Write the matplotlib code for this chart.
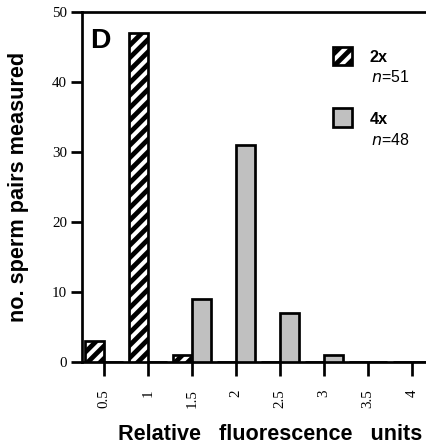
import matplotlib
matplotlib.use("Agg")
import matplotlib.pyplot as plt
from matplotlib.patches import Rectangle
import numpy as np

categories = ["0.5", "1", "1.5", "2", "2.5", "3", "3.5", "4"]
counts_2x = [3, 47, 1, 0, 0, 0, 0, 0]
counts_4x = [0, 0, 9, 31, 7, 1, 0, 0]
series_labels = ["2x", "4x"]
series_n = ["51", "48"]
yticks = [0, 10, 20, 30, 40, 50]

DPI = 150
LW = 1.3
plt.rcParams['hatch.linewidth'] = 2.3
plt.rcParams['font.family'] = ['Liberation Sans', 'DejaVu Sans']

fig = plt.figure(figsize=(426 / DPI, 445 / DPI), dpi=DPI)
ax = fig.add_axes([82 / 426, 83 / 445, 1 - 82 / 426, 350 / 445])

x = np.arange(len(categories))
w = 0.43
ax.bar(x, counts_2x, width=-w, align='edge', facecolor='white', edgecolor='black',
       linewidth=LW, hatch='////', zorder=3)
ax.bar(x, counts_4x, width=w, align='edge', facecolor='#c0c0c0', edgecolor='black',
       linewidth=LW, zorder=3)

ax.set_xlim(-0.5, 7.32)
ax.set_ylim(0, 50)
ax.set_xticks(x)
ax.set_xticklabels(categories, rotation=90, family='Liberation Serif', fontsize=7.2)
ax.set_yticks(yticks)
ax.set_yticklabels([str(v) for v in yticks], family='Liberation Serif', fontsize=7.2)
ax.tick_params(axis='x', length=6.5, width=LW, pad=6.5, direction='out')
ax.tick_params(axis='y', length=5.5, width=LW, pad=1.6, direction='out')

for s in ['left', 'bottom', 'top']:
    ax.spines[s].set_linewidth(LW)
ax.spines['right'].set_visible(False)

ax.set_ylabel("no. sperm pairs measured", fontweight='bold', fontsize=10.4, labelpad=11)
ax.set_xlabel("Relative   fluorescence   units", fontweight='bold', fontsize=10.4)
ax.xaxis.set_label_coords((270 - 82) / 344, -(435 - 362) / 350)
ax.xaxis.label.set_va('center')

ax.text(0.025, 0.955, "D", transform=ax.transAxes, fontsize=13.6, fontweight='bold',
        va='top', ha='left')

# legend
trans = ax.transAxes
def px(xp, yp):
    return ((xp - 82) / 344, (362 - yp) / 350)

x0, y0 = px(333, 65)
x1, y1 = px(352, 47)
ax.add_patch(Rectangle((x0, y0), x1 - x0, y1 - y0, transform=trans, facecolor='white',
                       edgecolor='black', hatch='////', linewidth=LW, clip_on=False, zorder=4))
x0, y0 = px(333, 127)
x1, y1 = px(352, 108)
ax.add_patch(Rectangle((x0, y0), x1 - x0, y1 - y0, transform=trans, facecolor='#c0c0c0',
                       edgecolor='black', linewidth=LW, clip_on=False, zorder=4))

tx, ty = px(370, 58)
ax.text(tx, ty, series_labels[0], transform=trans, fontsize=7.8, fontweight='bold', va='center')
tx, ty = px(371, 77)
ax.text(tx, ty, "$\\it{n}$=" + series_n[0], transform=trans, fontsize=7.6, va='center')
tx, ty = px(370, 120)
ax.text(tx, ty, series_labels[1], transform=trans, fontsize=7.8, fontweight='bold', va='center')
tx, ty = px(371, 140)
ax.text(tx, ty, "$\\it{n}$=" + series_n[1], transform=trans, fontsize=7.6, va='center')

fig.savefig("out.png", dpi=DPI)
